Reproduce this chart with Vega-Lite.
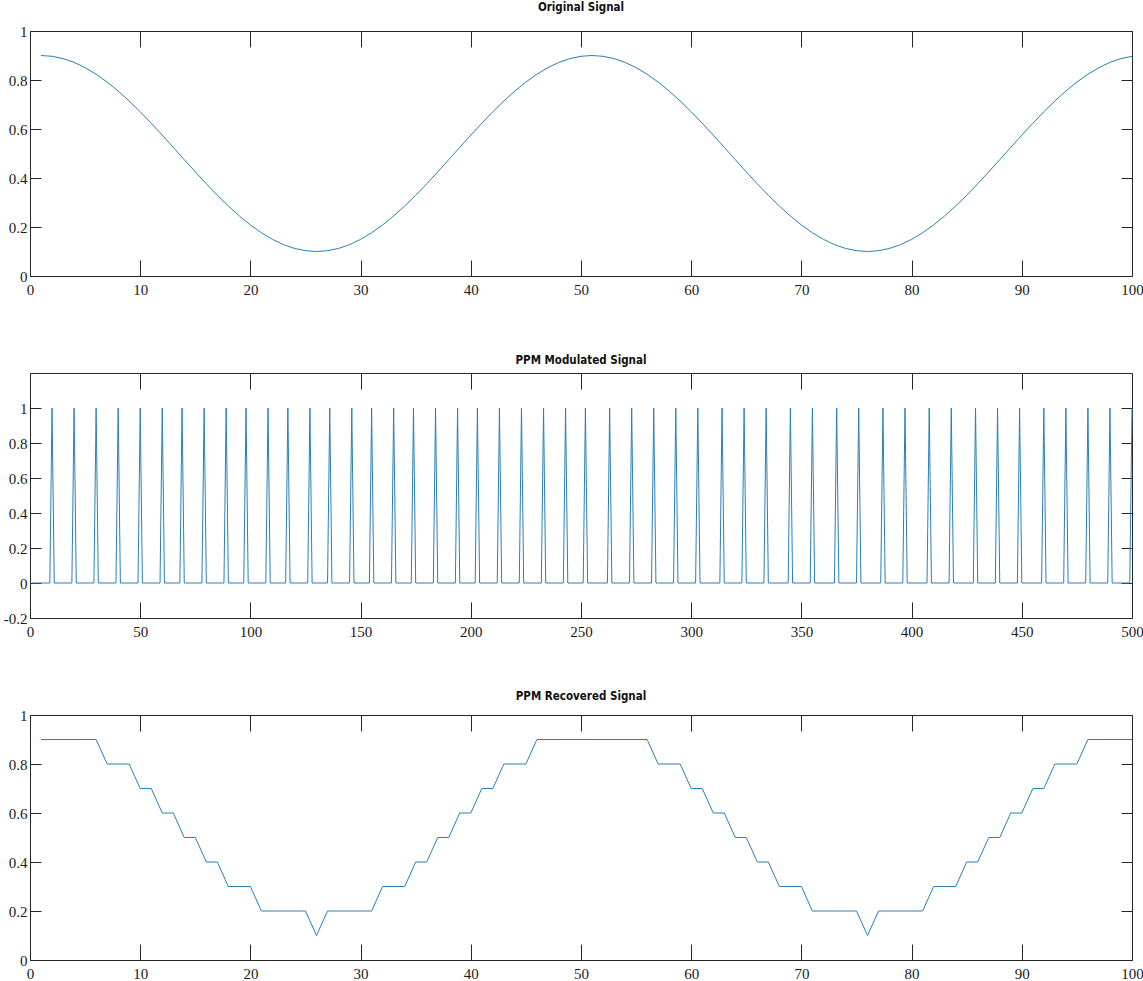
{
  "$schema": "https://vega.github.io/schema/vega-lite/v6.json",
  "background": "white",
  "padding": {"left": 2, "top": 1, "right": 0, "bottom": 0},
  "bounds": "flush",
  "spacing": 97,
  "config": {
    "view": {"stroke": "#262626", "strokeWidth": 1},
    "axis": {"grid": false, "title": null, "domain": false, "tickColor": "#262626", "tickWidth": 1, "labelFont": "Liberation Serif", "labelFontSize": 15, "labelColor": "#1a1a1a", "labelFlush": false, "labelOverlap": false, "labelExpr": "toString(datum.value)"},
    "axisX": {"tickSize": -16, "labelPadding": 22},
    "axisY": {"tickSize": -11, "labelPadding": 14},
    "title": {"font": "Liberation Sans Narrow, DejaVu Sans Condensed, Roboto Condensed, Liberation Sans, sans-serif", "fontWeight": "bold", "fontSize": 11.5, "color": "#111111", "anchor": "middle", "offset": 6},
    "line": {"color": "#2a7fb6", "strokeWidth": 1}
  },
  "datasets": {
    "orig": [
      {"n":1,"v":0.9},{"n":2,"v":0.8968},{"n":3,"v":0.8874},{"n":4,"v":0.8719},{"n":5,"v":0.8505},{"n":6,"v":0.8236},{"n":7,"v":0.7916},{"n":8,"v":0.755},{"n":9,"v":0.7143},{"n":10,"v":0.6703},
      {"n":11,"v":0.6236},{"n":12,"v":0.575},{"n":13,"v":0.5251},{"n":14,"v":0.4749},{"n":15,"v":0.425},{"n":16,"v":0.3764},{"n":17,"v":0.3297},{"n":18,"v":0.2857},{"n":19,"v":0.245},{"n":20,"v":0.2084},
      {"n":21,"v":0.1764},{"n":22,"v":0.1495},{"n":23,"v":0.1281},{"n":24,"v":0.1126},{"n":25,"v":0.1032},{"n":26,"v":0.1},{"n":27,"v":0.1032},{"n":28,"v":0.1126},{"n":29,"v":0.1281},{"n":30,"v":0.1495},
      {"n":31,"v":0.1764},{"n":32,"v":0.2084},{"n":33,"v":0.245},{"n":34,"v":0.2857},{"n":35,"v":0.3297},{"n":36,"v":0.3764},{"n":37,"v":0.425},{"n":38,"v":0.4749},{"n":39,"v":0.5251},{"n":40,"v":0.575},
      {"n":41,"v":0.6236},{"n":42,"v":0.6703},{"n":43,"v":0.7143},{"n":44,"v":0.755},{"n":45,"v":0.7916},{"n":46,"v":0.8236},{"n":47,"v":0.8505},{"n":48,"v":0.8719},{"n":49,"v":0.8874},{"n":50,"v":0.8968},
      {"n":51,"v":0.9},{"n":52,"v":0.8968},{"n":53,"v":0.8874},{"n":54,"v":0.8719},{"n":55,"v":0.8505},{"n":56,"v":0.8236},{"n":57,"v":0.7916},{"n":58,"v":0.755},{"n":59,"v":0.7143},{"n":60,"v":0.6703},
      {"n":61,"v":0.6236},{"n":62,"v":0.575},{"n":63,"v":0.5251},{"n":64,"v":0.4749},{"n":65,"v":0.425},{"n":66,"v":0.3764},{"n":67,"v":0.3297},{"n":68,"v":0.2857},{"n":69,"v":0.245},{"n":70,"v":0.2084},
      {"n":71,"v":0.1764},{"n":72,"v":0.1495},{"n":73,"v":0.1281},{"n":74,"v":0.1126},{"n":75,"v":0.1032},{"n":76,"v":0.1},{"n":77,"v":0.1032},{"n":78,"v":0.1126},{"n":79,"v":0.1281},{"n":80,"v":0.1495},
      {"n":81,"v":0.1764},{"n":82,"v":0.2084},{"n":83,"v":0.245},{"n":84,"v":0.2857},{"n":85,"v":0.3297},{"n":86,"v":0.3764},{"n":87,"v":0.425},{"n":88,"v":0.4749},{"n":89,"v":0.5251},{"n":90,"v":0.575},
      {"n":91,"v":0.6236},{"n":92,"v":0.6703},{"n":93,"v":0.7143},{"n":94,"v":0.755},{"n":95,"v":0.7916},{"n":96,"v":0.8236},{"n":97,"v":0.8505},{"n":98,"v":0.8719},{"n":99,"v":0.8874},{"n":100,"v":0.8968}
    ],
    "rec": [
      {"n":1,"v":0.9},{"n":2,"v":0.9},{"n":3,"v":0.9},{"n":4,"v":0.9},{"n":5,"v":0.9},{"n":6,"v":0.9},{"n":7,"v":0.8},{"n":8,"v":0.8},{"n":9,"v":0.8},{"n":10,"v":0.7},
      {"n":11,"v":0.7},{"n":12,"v":0.6},{"n":13,"v":0.6},{"n":14,"v":0.5},{"n":15,"v":0.5},{"n":16,"v":0.4},{"n":17,"v":0.4},{"n":18,"v":0.3},{"n":19,"v":0.3},{"n":20,"v":0.3},
      {"n":21,"v":0.2},{"n":22,"v":0.2},{"n":23,"v":0.2},{"n":24,"v":0.2},{"n":25,"v":0.2},{"n":26,"v":0.1},{"n":27,"v":0.2},{"n":28,"v":0.2},{"n":29,"v":0.2},{"n":30,"v":0.2},
      {"n":31,"v":0.2},{"n":32,"v":0.3},{"n":33,"v":0.3},{"n":34,"v":0.3},{"n":35,"v":0.4},{"n":36,"v":0.4},{"n":37,"v":0.5},{"n":38,"v":0.5},{"n":39,"v":0.6},{"n":40,"v":0.6},
      {"n":41,"v":0.7},{"n":42,"v":0.7},{"n":43,"v":0.8},{"n":44,"v":0.8},{"n":45,"v":0.8},{"n":46,"v":0.9},{"n":47,"v":0.9},{"n":48,"v":0.9},{"n":49,"v":0.9},{"n":50,"v":0.9},
      {"n":51,"v":0.9},{"n":52,"v":0.9},{"n":53,"v":0.9},{"n":54,"v":0.9},{"n":55,"v":0.9},{"n":56,"v":0.9},{"n":57,"v":0.8},{"n":58,"v":0.8},{"n":59,"v":0.8},{"n":60,"v":0.7},
      {"n":61,"v":0.7},{"n":62,"v":0.6},{"n":63,"v":0.6},{"n":64,"v":0.5},{"n":65,"v":0.5},{"n":66,"v":0.4},{"n":67,"v":0.4},{"n":68,"v":0.3},{"n":69,"v":0.3},{"n":70,"v":0.3},
      {"n":71,"v":0.2},{"n":72,"v":0.2},{"n":73,"v":0.2},{"n":74,"v":0.2},{"n":75,"v":0.2},{"n":76,"v":0.1},{"n":77,"v":0.2},{"n":78,"v":0.2},{"n":79,"v":0.2},{"n":80,"v":0.2},
      {"n":81,"v":0.2},{"n":82,"v":0.3},{"n":83,"v":0.3},{"n":84,"v":0.3},{"n":85,"v":0.4},{"n":86,"v":0.4},{"n":87,"v":0.5},{"n":88,"v":0.5},{"n":89,"v":0.6},{"n":90,"v":0.6},
      {"n":91,"v":0.7},{"n":92,"v":0.7},{"n":93,"v":0.8},{"n":94,"v":0.8},{"n":95,"v":0.8},{"n":96,"v":0.9},{"n":97,"v":0.9},{"n":98,"v":0.9},{"n":99,"v":0.9},{"n":100,"v":0.9}
    ],
    "ppm": [
      {"n":1,"v":0},
      {"n":9,"v":0},{"n":10,"v":1},{"n":11,"v":0},
      {"n":19,"v":0},{"n":20,"v":1},{"n":21,"v":0},
      {"n":29,"v":0},{"n":30,"v":1},{"n":31,"v":0},
      {"n":39,"v":0},{"n":40,"v":1},{"n":41,"v":0},
      {"n":49,"v":0},{"n":50,"v":1},{"n":51,"v":0},
      {"n":59,"v":0},{"n":60,"v":1},{"n":61,"v":0},
      {"n":68,"v":0},{"n":69,"v":1},{"n":70,"v":0},
      {"n":78,"v":0},{"n":79,"v":1},{"n":80,"v":0},
      {"n":88,"v":0},{"n":89,"v":1},{"n":90,"v":0},
      {"n":97,"v":0},{"n":98,"v":1},{"n":99,"v":0},
      {"n":107,"v":0},{"n":108,"v":1},{"n":109,"v":0},
      {"n":116,"v":0},{"n":117,"v":1},{"n":118,"v":0},
      {"n":126,"v":0},{"n":127,"v":1},{"n":128,"v":0},
      {"n":135,"v":0},{"n":136,"v":1},{"n":137,"v":0},
      {"n":145,"v":0},{"n":146,"v":1},{"n":147,"v":0},
      {"n":154,"v":0},{"n":155,"v":1},{"n":156,"v":0},
      {"n":164,"v":0},{"n":165,"v":1},{"n":166,"v":0},
      {"n":173,"v":0},{"n":174,"v":1},{"n":175,"v":0},
      {"n":183,"v":0},{"n":184,"v":1},{"n":185,"v":0},
      {"n":193,"v":0},{"n":194,"v":1},{"n":195,"v":0},
      {"n":202,"v":0},{"n":203,"v":1},{"n":204,"v":0},
      {"n":212,"v":0},{"n":213,"v":1},{"n":214,"v":0},
      {"n":222,"v":0},{"n":223,"v":1},{"n":224,"v":0},
      {"n":232,"v":0},{"n":233,"v":1},{"n":234,"v":0},
      {"n":242,"v":0},{"n":243,"v":1},{"n":244,"v":0},
      {"n":251,"v":0},{"n":252,"v":1},{"n":253,"v":0},
      {"n":262,"v":0},{"n":263,"v":1},{"n":264,"v":0},
      {"n":272,"v":0},{"n":273,"v":1},{"n":274,"v":0},
      {"n":282,"v":0},{"n":283,"v":1},{"n":284,"v":0},
      {"n":292,"v":0},{"n":293,"v":1},{"n":294,"v":0},
      {"n":302,"v":0},{"n":303,"v":1},{"n":304,"v":0},
      {"n":313,"v":0},{"n":314,"v":1},{"n":315,"v":0},
      {"n":323,"v":0},{"n":324,"v":1},{"n":325,"v":0},
      {"n":333,"v":0},{"n":334,"v":1},{"n":335,"v":0},
      {"n":344,"v":0},{"n":345,"v":1},{"n":346,"v":0},
      {"n":354,"v":0},{"n":355,"v":1},{"n":356,"v":0},
      {"n":365,"v":0},{"n":366,"v":1},{"n":367,"v":0},
      {"n":375,"v":0},{"n":376,"v":1},{"n":377,"v":0},
      {"n":386,"v":0},{"n":387,"v":1},{"n":388,"v":0},
      {"n":396,"v":0},{"n":397,"v":1},{"n":398,"v":0},
      {"n":407,"v":0},{"n":408,"v":1},{"n":409,"v":0},
      {"n":417,"v":0},{"n":418,"v":1},{"n":419,"v":0},
      {"n":428,"v":0},{"n":429,"v":1},{"n":430,"v":0},
      {"n":438,"v":0},{"n":439,"v":1},{"n":440,"v":0},
      {"n":448,"v":0},{"n":449,"v":1},{"n":450,"v":0},
      {"n":459,"v":0},{"n":460,"v":1},{"n":461,"v":0},
      {"n":469,"v":0},{"n":470,"v":1},{"n":471,"v":0},
      {"n":479,"v":0},{"n":480,"v":1},{"n":481,"v":0},
      {"n":489,"v":0},{"n":490,"v":1},{"n":491,"v":0},
      {"n":499,"v":0},{"n":500,"v":1}
    ]
  },
  "vconcat": [
    {
      "width": 1102, "height": 245,
      "title": {"text": "Original Signal", "offset": 11},
      "data": {"name": "orig"},
      "layer": [
        {"mark": {"type": "line"},
         "encoding": {
           "x": {"field": "n", "type": "quantitative", "scale": {"domain": [0, 100], "nice": false, "zero": false}, "axis": {"orient": "bottom", "values": [0,10,20,30,40,50,60,70,80,90,100]}},
           "y": {"field": "v", "type": "quantitative", "scale": {"domain": [0, 1], "nice": false, "zero": false}, "axis": {"orient": "left", "values": [0,0.2,0.4,0.6,0.8,1]}}
         }},
        {"mark": {"type": "line", "opacity": 0},
         "encoding": {
           "x": {"field": "n", "type": "quantitative", "axis": {"orient": "top", "labels": false, "values": [0,10,20,30,40,50,60,70,80,90,100]}},
           "y": {"field": "v", "type": "quantitative", "axis": {"orient": "right", "labels": false, "values": [0,0.2,0.4,0.6,0.8,1]}}
         }}
      ],
      "resolve": {"axis": {"x": "independent", "y": "independent"}}
    },
    {
      "width": 1102, "height": 245,
      "title": {"text": "PPM Modulated Signal"},
      "data": {"name": "ppm"},
      "layer": [
        {"mark": {"type": "line"},
         "encoding": {
           "x": {"field": "n", "type": "quantitative", "scale": {"domain": [0, 500], "nice": false, "zero": false}, "axis": {"orient": "bottom", "values": [0,50,100,150,200,250,300,350,400,450,500]}},
           "y": {"field": "v", "type": "quantitative", "scale": {"domain": [-0.2, 1.2], "nice": false, "zero": false}, "axis": {"orient": "left", "values": [-0.2,0,0.2,0.4,0.6,0.8,1]}}
         }},
        {"mark": {"type": "line", "opacity": 0},
         "encoding": {
           "x": {"field": "n", "type": "quantitative", "axis": {"orient": "top", "labels": false, "values": [0,50,100,150,200,250,300,350,400,450,500]}},
           "y": {"field": "v", "type": "quantitative", "axis": {"orient": "right", "labels": false, "values": [-0.2,0,0.2,0.4,0.6,0.8,1]}}
         }}
      ],
      "resolve": {"axis": {"x": "independent", "y": "independent"}}
    },
    {
      "width": 1102, "height": 245,
      "title": {"text": "PPM Recovered Signal"},
      "data": {"name": "rec"},
      "layer": [
        {"mark": {"type": "line"},
         "encoding": {
           "x": {"field": "n", "type": "quantitative", "scale": {"domain": [0, 100], "nice": false, "zero": false}, "axis": {"orient": "bottom", "values": [0,10,20,30,40,50,60,70,80,90,100]}},
           "y": {"field": "v", "type": "quantitative", "scale": {"domain": [0, 1], "nice": false, "zero": false}, "axis": {"orient": "left", "values": [0,0.2,0.4,0.6,0.8,1]}}
         }},
        {"mark": {"type": "line", "opacity": 0},
         "encoding": {
           "x": {"field": "n", "type": "quantitative", "axis": {"orient": "top", "labels": false, "values": [0,10,20,30,40,50,60,70,80,90,100]}},
           "y": {"field": "v", "type": "quantitative", "axis": {"orient": "right", "labels": false, "values": [0,0.2,0.4,0.6,0.8,1]}}
         }}
      ],
      "resolve": {"axis": {"x": "independent", "y": "independent"}}
    }
  ]
}
